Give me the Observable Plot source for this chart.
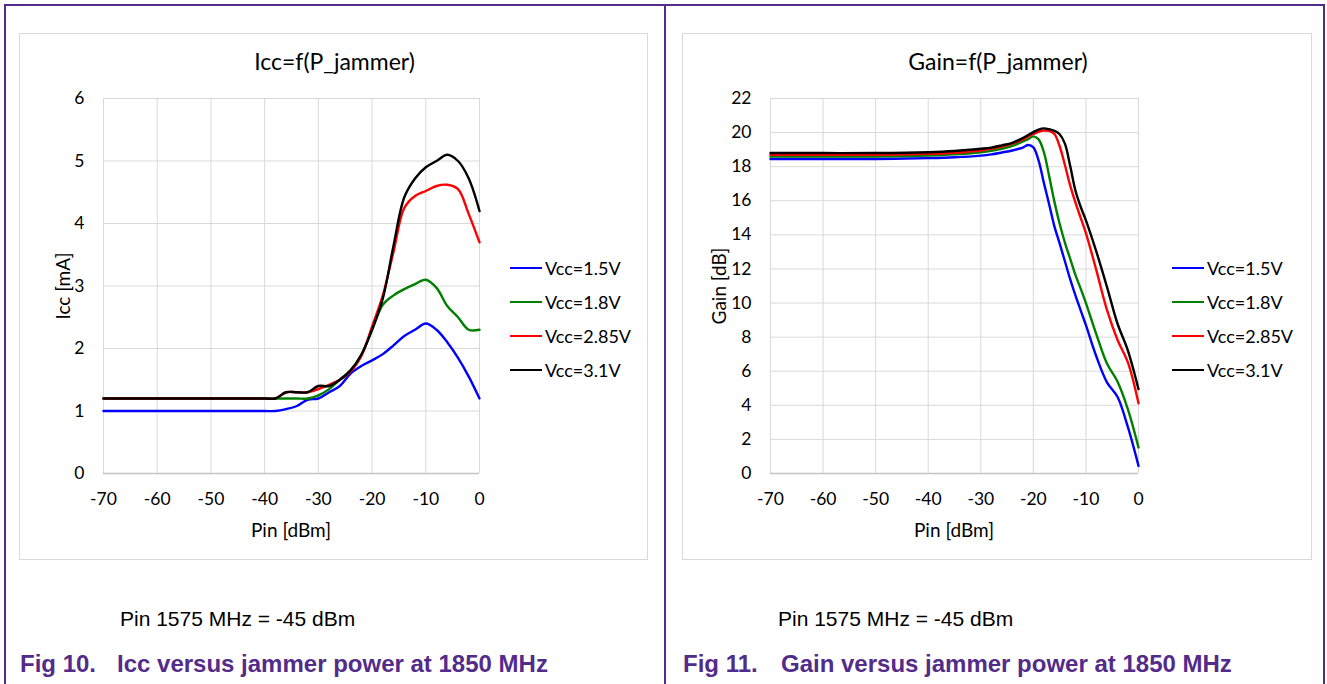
<!DOCTYPE html>
<html>
<head>
<meta charset="utf-8">
<script src="https://cdn.jsdelivr.net/npm/d3@7"></script>
<script src="https://cdn.jsdelivr.net/npm/@observablehq/plot@0.6"></script>
<style>
  body { margin: 0; background: #fff; }
  #root { position: relative; width: 1327px; height: 684px; overflow: hidden; background: #fff; }
  .abs { position: absolute; white-space: nowrap; }
  .box { position: absolute; border: 1px solid #d9d9d9; box-sizing: border-box; }
  .ctext { font-family: Lato, "Open Sans", sans-serif; color: #000; }
  .title { font-size: 23px; transform: translate(-50%, -50%); }
  .axl { font-size: 19px; transform: translate(-50%, -50%); }
  .axly { font-size: 19px; transform: translate(-50%, -50%) rotate(-90deg); }
  .leg { font-size: 18px; display: flex; align-items: center; transform: translateY(-50%); }
  .leg span.sw { display: inline-block; width: 32px; height: 0; border-top: 2.5px solid; margin-right: 3px; }
  .note { font-family: "Liberation Sans", Arial, sans-serif; font-size: 21px; color: #000; transform: translateY(-50%); }
  .fig { font-family: "Liberation Sans", Arial, sans-serif; font-weight: bold; font-size: 24px; color: #532c8a; transform: translateY(-50%); }
  .bline { position: absolute; background: #532c8a; }
</style>
</head>
<body>
<div id="root"></div>
<script>
// ---------- data ----------
const seriesNames = ["Vcc=1.5V", "Vcc=1.8V", "Vcc=2.85V", "Vcc=3.1V"];
const seriesColors = ["#0000ff", "#008000", "#ff0000", "#000000"];

const xTicks = [-70, -60, -50, -40, -30, -20, -10, 0];
const iccTicks = [0, 1, 2, 3, 4, 5, 6];
const gainTicks = [0, 2, 4, 6, 8, 10, 12, 14, 16, 18, 20, 22];

// Icc [mA] vs Pin [dBm]
const pinIcc = [-70, -60, -50, -40, -38, -36, -34, -32, -30, -28, -26, -24, -22, -20, -18, -16, -14, -12, -10, -8, -6, -4, -2, 0];
const icc15  = [1.0, 1.0, 1.0, 1.0, 1.0, 1.03, 1.08, 1.18, 1.2, 1.3, 1.4, 1.6, 1.72, 1.81, 1.91, 2.05, 2.2, 2.3, 2.4, 2.3, 2.1, 1.85, 1.55, 1.2];
const icc18  = [1.2, 1.2, 1.2, 1.2, 1.2, 1.2, 1.2, 1.2, 1.25, 1.35, 1.5, 1.65, 1.9, 2.3, 2.7, 2.85, 2.95, 3.03, 3.1, 2.97, 2.68, 2.5, 2.3, 2.3];
const icc285 = [1.2, 1.2, 1.2, 1.2, 1.2, 1.3, 1.3, 1.3, 1.35, 1.42, 1.5, 1.63, 1.88, 2.35, 2.85, 3.55, 4.25, 4.44, 4.52, 4.6, 4.62, 4.55, 4.15, 3.7];
const icc31  = [1.2, 1.2, 1.2, 1.2, 1.2, 1.3, 1.3, 1.3, 1.4, 1.4, 1.5, 1.65, 1.9, 2.3, 2.8, 3.65, 4.42, 4.72, 4.9, 5.0, 5.1, 5.0, 4.72, 4.2];

// Gain [dB] vs Pin [dBm]
const pinGain = [-70, -60, -50, -40, -35, -30, -28, -26, -24, -22, -21, -20, -19, -18, -17, -16, -15, -14, -13, -12, -11, -10, -8, -6, -4, -2, 0];
const gain15  = [18.45, 18.45, 18.45, 18.5, 18.55, 18.65, 18.72, 18.83, 18.95, 19.12, 19.27, 19.13, 18.35, 17.05, 15.8, 14.5, 13.5, 12.45, 11.4, 10.45, 9.57, 8.7, 6.85, 5.35, 4.5, 2.7, 0.45];
const gain18  = [18.6, 18.6, 18.6, 18.65, 18.72, 18.85, 18.93, 19.05, 19.22, 19.48, 19.62, 19.78, 19.6, 18.85, 17.45, 15.95, 14.65, 13.55, 12.6, 11.65, 10.85, 10.0, 8.15, 6.45, 5.4, 3.75, 1.53];
const gain285 = [18.7, 18.7, 18.7, 18.75, 18.82, 18.95, 19.05, 19.18, 19.35, 19.6, 19.78, 19.92, 20.05, 20.12, 20.1, 19.92, 19.2, 18.1, 16.9, 15.9, 15.0, 14.1, 11.9, 9.6, 7.85, 6.5, 4.12];
const gain31  = [18.8, 18.8, 18.8, 18.85, 18.92, 19.05, 19.12, 19.25, 19.4, 19.68, 19.85, 20.03, 20.18, 20.25, 20.2, 20.1, 19.9, 19.35, 18.05, 16.6, 15.65, 14.85, 13.0, 10.95, 8.8, 7.2, 4.95];

// ---------- helpers ----------
const fmt = d => (d < 0 ? "-" + Math.abs(d) : String(d));
const root = document.getElementById("root");

function el(cls, text, left, top, color) {
  const d = document.createElement("div");
  d.className = "abs " + cls;
  if (text != null) d.textContent = text;
  d.style.left = left + "px";
  d.style.top = top + "px";
  if (color) d.style.color = color;
  root.appendChild(d);
  return d;
}

function makeChart(xs, ys, yTicks, yDomain, m) {
  const marks = [
    Plot.ruleX(xTicks, {stroke: "#d9d9d9", strokeWidth: 1}),
    Plot.ruleY(yTicks.slice(1), {stroke: "#d9d9d9", strokeWidth: 1}),
    Plot.ruleY([0], {stroke: "#c4c4c4", strokeWidth: 1.3})
  ];
  ys.forEach((arr, i) => {
    const data = xs.map((x, j) => ({x, y: arr[j]}));
    marks.push(Plot.line(data, {x: "x", y: "y", stroke: seriesColors[i], strokeWidth: 2.4, curve: "catmull-rom"}));
  });
  return Plot.plot({
    width: m.width, height: m.height,
    marginLeft: m.left, marginRight: m.right, marginTop: m.top, marginBottom: m.bottom,
    style: {fontFamily: "Lato, 'Open Sans', sans-serif", fontSize: "17.5px", color: "#000", background: "transparent", overflow: "visible"},
    x: {domain: [-70, 0], ticks: xTicks, tickFormat: fmt, tickSize: 0, tickPadding: 19, label: null},
    y: {domain: yDomain, ticks: yTicks, tickFormat: fmt, tickSize: 0, tickPadding: 19, label: null},
    marks
  });
}

// ---------- page frame ----------
[[4, 4, 1321, 1.5], [4, 4, 1.5, 680], [664, 4, 1.5, 680], [1323, 4, 1.5, 680]].forEach(([l, t, w, h]) => {
  const b = document.createElement("div");
  b.className = "bline";
  Object.assign(b.style, {left: l + "px", top: t + "px", width: w + "px", height: h + "px"});
  root.appendChild(b);
});

// ---------- panels ----------
const panels = [
  {box: [19, 33, 629, 527], margins: {left: 84, right: 169, top: 65, bottom: 87},
   xs: pinIcc, ys: [icc15, icc18, icc285, icc31], yTicks: iccTicks, yDomain: [0, 6],
   title: "Icc=f(P_jammer)", ylab: "Icc [mA]", xlab: "Pin [dBm]",
   ylabX: 62, legX: 510, note: "Pin 1575 MHz = -45 dBm", noteX: 120,
   figNum: "Fig 10.", figText: "Icc versus jammer power at 1850 MHz", figX: 20, figGap: 97},
  {box: [682, 33, 630, 527], margins: {left: 88, right: 174, top: 65, bottom: 87},
   xs: pinGain, ys: [gain15, gain18, gain285, gain31], yTicks: gainTicks, yDomain: [0, 22],
   title: "Gain=f(P_jammer)", ylab: "Gain [dB]", xlab: "Pin [dBm]",
   ylabX: 718, legX: 1172, note: "Pin 1575 MHz = -45 dBm", noteX: 778,
   figNum: "Fig 11.", figText: "Gain versus jammer power at 1850 MHz", figX: 683, figGap: 98}
];

panels.forEach(p => {
  const [bl, bt, bw, bh] = p.box;
  const box = document.createElement("div");
  box.className = "box";
  Object.assign(box.style, {left: bl + "px", top: bt + "px", width: bw + "px", height: bh + "px"});
  root.appendChild(box);

  const svg = makeChart(p.xs, p.ys, p.yTicks, p.yDomain, {width: bw, height: bh, ...p.margins});
  svg.style.position = "absolute";
  svg.style.left = bl + "px";
  svg.style.top = bt + "px";
  root.appendChild(svg);

  const plotL = bl + p.margins.left, plotR = bl + bw - p.margins.right;
  const plotT = bt + p.margins.top, plotB = bt + bh - p.margins.bottom;

  el("ctext title", p.title, (bl + bw / 2) + 1, 61);
  el("ctext axl", p.xlab, (plotL + plotR) / 2, 529);
  el("ctext axly", p.ylab, p.ylabX, (plotT + plotB) / 2);

  seriesNames.forEach((name, i) => {
    const d = el("ctext leg", null, p.legX, 268 + i * 34);
    const sw = document.createElement("span");
    sw.className = "sw";
    sw.style.borderTopColor = seriesColors[i];
    d.appendChild(sw);
    const t = document.createElement("span");
    t.textContent = name;
    d.appendChild(t);
  });

  el("note", p.note, p.noteX, 619);
  el("fig", p.figNum, p.figX, 664);
  el("fig", p.figText, p.figX + p.figGap, 664);
});
</script>
</body>
</html>
